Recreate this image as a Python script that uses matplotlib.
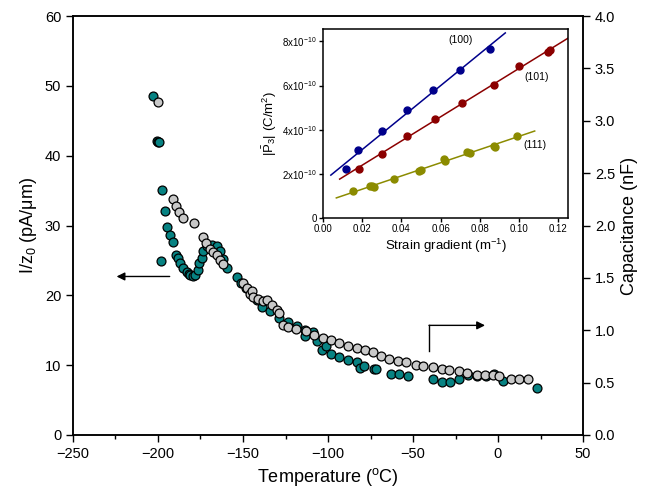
import matplotlib.pyplot as plt
import numpy as np

plt.rcParams['font.family'] = ['Liberation Sans', 'DejaVu Sans']
plt.rcParams['mathtext.fontset'] = 'custom'
plt.rcParams['mathtext.rm'] = 'Liberation Sans'
plt.rcParams['mathtext.it'] = 'Liberation Sans:italic'

# current (left axis, pA/um) vs temperature
teal_T = [-203.0, -200.8, -199.8, -199.2, -198.4, -197.5, -195.7, -194.5, -193.0, -191.4,
          -189.4, -188.5, -187.0, -185.1, -183.1, -182.0, -181.2, -179.2, -178.0, -176.6,
          -175.7, -174.3, -173.4, -171.4, -168.4, -165.5, -163.5, -161.5, -159.6, -153.7,
          -151.0, -148.0, -145.0, -142.0, -139.0, -134.1, -128.6, -123.3, -118.5, -113.5,
          -113.5, -108.6, -106.7, -103.7, -101.2, -98.2, -93.3, -88.4, -83.2, -81.2,
          -78.6, -72.9, -71.8, -62.9, -58.0, -52.8, -38.4, -33.1, -28.2, -22.8,
          -17.5, -12.5, -7.1, -2.2, 3.1, 22.7]
teal_I = [48.6, 42.1, 42.0, 41.9, 24.9, 35.1, 32.1, 29.8, 28.7, 27.7,
          25.8, 25.3, 24.6, 23.9, 23.4, 23.1, 22.9, 22.7, 22.9, 23.6,
          24.6, 25.3, 26.3, 27.0, 27.2, 27.0, 26.3, 25.2, 23.9, 22.6,
          21.8, 21.0, 20.2, 19.3, 18.4, 17.7, 16.7, 16.2, 15.6, 15.0,
          14.2, 14.7, 13.4, 12.2, 12.7, 11.6, 11.2, 10.8, 10.4, 9.6,
          9.9, 9.4, 9.4, 8.8, 8.7, 8.5, 8.0, 7.6, 7.6, 8.0,
          8.6, 8.4, 8.5, 8.8, 7.7, 6.8]

# capacitance (right axis, nF) vs temperature
gray_T = [-200.0, -191.4, -189.4, -187.5, -185.1, -178.8, -173.7, -171.8, -169.4, -167.5,
          -165.5, -163.5, -161.9, -149.8, -147.8, -145.9, -144.9, -143.9, -141.0, -138.0,
          -136.0, -133.1, -130.2, -128.6, -126.3, -123.3, -118.8, -113.0, -108.0, -103.0,
          -98.2, -93.3, -88.4, -83.2, -78.2, -73.7, -68.8, -63.9, -59.0, -54.1,
          -48.2, -44.0, -38.1, -33.1, -28.6, -22.8, -18.1, -12.5, -7.6, -3.1,
          0.8, 7.6, 12.5, 17.5]
gray_C = [3.18, 2.25, 2.19, 2.13, 2.07, 2.02, 1.89, 1.83, 1.78, 1.75,
          1.72, 1.67, 1.63, 1.45, 1.40, 1.35, 1.37, 1.32, 1.30, 1.28,
          1.29, 1.24, 1.19, 1.16, 1.05, 1.03, 1.01, 0.99, 0.95, 0.93,
          0.91, 0.88, 0.85, 0.83, 0.81, 0.79, 0.75, 0.73, 0.71, 0.70,
          0.67, 0.66, 0.65, 0.63, 0.62, 0.61, 0.59, 0.57, 0.57, 0.57,
          0.56, 0.53, 0.53, 0.53]

# inset: polarization vs strain gradient
g100 = [0.0116, 0.018, 0.030, 0.043, 0.056, 0.070, 0.085]
p100 = [2.2e-10, 3.09e-10, 3.92e-10, 4.88e-10, 5.78e-10, 6.72e-10, 7.67e-10]
g101 = [0.0183, 0.030, 0.043, 0.057, 0.071, 0.087, 0.100, 0.115, 0.116]
p101 = [2.22e-10, 2.88e-10, 3.73e-10, 4.50e-10, 5.21e-10, 6.04e-10, 6.90e-10, 7.50e-10, 7.60e-10]
g111 = [0.0154, 0.024, 0.025, 0.026, 0.036, 0.049, 0.050, 0.0615, 0.0624, 0.0735, 0.075, 0.087, 0.0875, 0.099]
p111 = [1.24e-10, 1.43e-10, 1.43e-10, 1.42e-10, 1.78e-10, 2.11e-10, 2.19e-10, 2.67e-10, 2.57e-10, 2.97e-10, 2.95e-10, 3.28e-10, 3.21e-10, 3.73e-10]

teal = '#078282'
grey = '#c8c8c8'

fig = plt.figure(figsize=(6.69, 5.01), dpi=100)
ax = fig.add_axes([73/669, 1-435/501, 510/669, 419/501])
ax2 = ax.twinx()

ax.plot(teal_T, teal_I, 'o', ms=6.4, mfc=teal, mec='black', mew=0.9, zorder=3)
ax2.plot(gray_T, gray_C, 'o', ms=6.4, mfc=grey, mec='black', mew=0.9, zorder=3)

ax.set_xlim(-250, 50)
ax.set_ylim(0, 60)
ax2.set_ylim(0, 4.0)
ax.set_xticks(np.arange(-250, 51, 50))
ax.set_xticks(np.arange(-225, 50, 50), minor=True)
ax.set_yticks(np.arange(0, 61, 10))
ax2.set_yticks(np.arange(0, 4.01, 0.5))
ax2.set_yticklabels(['%.1f' % v for v in np.arange(0, 4.01, 0.5)])
ax.tick_params(direction='out', length=5, width=1, labelsize=10.5)
ax.tick_params(which='minor', direction='out', length=3, width=1)
ax2.tick_params(direction='out', length=5, width=1, labelsize=10.5)
for a in (ax, ax2):
    for s in a.spines.values():
        s.set_linewidth(1.1)

ax.set_xlabel('Temperature ($^{\\mathrm{o}}$C)', fontsize=13)
ax.set_ylabel('I/z$_0$ (pA/\u03bcm)', fontsize=13)
ax2.set_ylabel('Capacitance (nF)', fontsize=13)

# arrows indicating axes
ax.annotate('', xy=(-226, 22.7), xytext=(-191.5, 22.7),
            arrowprops=dict(arrowstyle='-|>', color='black', lw=1, mutation_scale=12))
ax.plot([-40.6, -40.6], [12.0, 15.7], color='black', lw=1)
ax.annotate('', xy=(-6, 15.7), xytext=(-40.6, 15.7),
            arrowprops=dict(arrowstyle='-|>', color='black', lw=1, mutation_scale=12, shrinkA=0))

# inset
ins = fig.add_axes([323/669, 1-218/501, 245/669, 189/501])
ins.set_zorder(5)
ins.plot(g100, p100, 'o', color='#00008b', ms=5)
ins.plot(g101, p101, 'o', color='#8b0000', ms=5)
ins.plot(g111, p111, 'o', color='#8b8b00', ms=5)
for g, p, lo, hi, c in [(g100, p100, 0.004, 0.093, '#00008b'),
                        (g101, p101, 0.0085, 0.125, '#8b0000'),
                        (g111, p111, 0.0068, 0.108, '#8b8b00')]:
    k, b = np.polyfit(g, p, 1)
    xs = np.array([lo, hi])
    ins.plot(xs, k*xs + b, color=c, lw=1.1)
ins.set_xlim(0, 0.125)
ins.set_ylim(0, 8.56e-10)
ins.set_xticks(np.arange(0, 0.121, 0.02))
ins.set_xticklabels(['%.2f' % v for v in np.arange(0, 0.121, 0.02)])
ins.set_yticks([0, 2e-10, 4e-10, 6e-10, 8e-10])
ins.set_yticklabels(['0', '2x10$^{-10}$', '4x10$^{-10}$', '6x10$^{-10}$', '8x10$^{-10}$'])
ins.tick_params(direction='out', length=3, width=1, labelsize=7, pad=1.5)
for s in ins.spines.values():
    s.set_linewidth(1.1)
ins.set_xlabel('Strain gradient (m$^{-1}$)', fontsize=9.5, labelpad=2)
ins.set_ylabel('$|\\bar{\\mathrm{P}}_3|$ (C/m$^2$)', fontsize=9.5, labelpad=2)
ins.text(0.070, 8.05e-10, '(100)', fontsize=7.5, ha='center', va='center')
ins.text(0.109, 6.38e-10, '(101)', fontsize=7.5, ha='center', va='center')
ins.text(0.108, 3.29e-10, '(111)', fontsize=7.5, ha='center', va='center')

fig.savefig('out.png', dpi=100)
